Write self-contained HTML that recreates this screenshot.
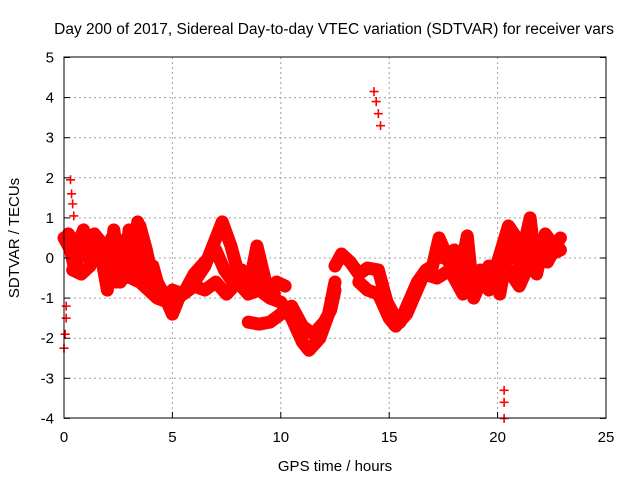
<!DOCTYPE html>
<html><head><meta charset="utf-8"><style>
body{margin:0;background:#fff}
svg text{font-family:"Liberation Sans",sans-serif;font-size:15px;fill:#000}
</style></head><body>
<svg id="chart" width="640" height="480" viewBox="0 0 640 480" xmlns="http://www.w3.org/2000/svg">
<rect width="640" height="480" fill="#fff"/>
<text x="334" y="34" text-anchor="middle" style="font-size:15.5px">Day 200 of 2017, Sidereal Day-to-day VTEC variation (SDTVAR) for receiver vars</text>
<g id="grid"></g>
<g id="marks"></g>
<rect x="64" y="57" width="542" height="361" fill="none" stroke="#000" stroke-width="1"/>
<g id="ticks"></g>
<text x="335" y="471" text-anchor="middle">GPS time / hours</text>
<text transform="translate(19,238) rotate(-90)" text-anchor="middle">SDTVAR / TECUs</text>
</svg>
<script>
const xTicks=[0,5,10,15,20,25];
const yTicks=[-4,-3,-2,-1,0,1,2,3,4,5];
const traceA=[[0,0.5],[0.3,0.2],[0.5,-0.3],[0.8,0.4],[1.0,0.6],[1.3,0.2],[1.5,0.5],[1.8,-0.2],[2.0,-0.8],[2.2,0.5],[2.5,0.2],[2.8,-0.5],[3.0,0.7],[3.3,-0.3],[3.5,0.8],[3.8,0.2],[4.0,-0.3],[4.3,-0.6],[4.6,-0.9],[5.0,-1.4],[5.3,-1.0],[5.6,-0.8],[6.0,-0.4],[6.5,-0.1],[7.0,0.2],[7.4,-0.3],[7.8,-0.6],[8.2,-0.3],[8.6,-0.7],[9.0,-0.5],[9.4,-0.8],[9.8,-0.6],[10.2,-0.7]];
const traceA2=[[0.2,0.6],[0.6,0.3],[0.9,0.7],[1.2,-0.1],[1.4,0.6],[1.7,0.4],[2.1,-0.4],[2.3,0.7],[2.6,-0.6],[2.9,0.5],[3.2,0.1],[3.4,0.9],[3.7,-0.6],[4.1,-0.2],[4.4,-0.8]];
const traceB=[[0.4,-0.3],[0.8,-0.4],[1.2,-0.2],[1.6,0.3],[2.0,0.1],[2.4,-0.6],[2.7,-0.2],[3.1,-0.5],[3.5,-0.6],[3.9,-0.8],[4.3,-1.0],[4.8,-1.1],[5.0,-0.8],[5.5,-0.9],[6.0,-0.7],[6.5,-0.8],[7.0,-0.6],[7.5,-0.9],[8.0,-0.6],[8.5,-0.9],[9.0,-0.8],[9.5,-1.0],[10.0,-1.1],[10.5,-1.5],[11.0,-2.1],[11.3,-2.3],[11.8,-2.0],[12.2,-1.4],[12.5,-0.6]];
const traceC=[[6.0,-0.6],[6.5,-0.2],[7.3,0.9],[7.7,0.3],[8.0,-0.3],[8.5,-0.8],[8.9,0.3],[9.3,-0.6],[9.7,-0.9]];
const traceD=[[8.5,-1.6],[9.0,-1.65],[9.5,-1.6],[10.0,-1.4],[10.5,-1.2],[11.0,-1.7],[11.5,-1.9],[12.0,-1.6],[12.3,-1.3],[12.5,-0.8]];
const traceE=[[12.5,-0.2],[12.8,0.1],[13.2,-0.1],[13.6,-0.4],[14.0,-0.25],[14.5,-0.3],[14.9,-1.1],[15.2,-1.4],[15.5,-1.6],[15.9,-1.1],[16.3,-0.6],[16.7,-0.3],[17.0,-0.2],[17.3,0.5],[17.7,0.0],[18.0,-0.5],[18.3,-0.3],[18.6,0.55],[18.9,-1.0],[19.3,-0.5],[19.6,-0.2],[20.1,-0.9],[20.4,0.0],[20.7,0.5],[21.0,-0.2],[21.5,1.0],[21.8,-0.4],[22.2,0.6],[22.6,0.3],[22.9,0.5]];
const traceF=[[13.6,-0.6],[14.0,-0.8],[14.5,-0.9],[15.0,-1.5],[15.3,-1.7],[15.8,-1.4],[16.2,-0.9],[16.6,-0.4],[17.2,-0.5],[17.8,-0.3],[18.4,-0.9],[18.8,-0.6],[19.2,-0.3],[19.6,-0.8],[20.0,-0.5],[20.5,-0.3],[21.0,-0.7],[21.5,-0.1],[22.0,0.2],[22.5,0.1],[22.9,0.2]];
const traceF2=[[17.5,0.0],[18.0,0.2],[18.5,-0.4],[19.0,-0.7],[19.5,-0.5],[20.0,-0.1],[20.5,0.8],[21.0,0.4],[21.4,0.6],[21.8,0.2],[22.3,-0.1],[22.8,0.4]];
const traceG=[[14.3,4.15],[14.4,3.9],[14.5,3.6],[14.6,3.3]];
const traceH=[[0.3,1.95],[0.35,1.6],[0.4,1.35],[0.45,1.05]];
const traceI=[[0.0,-2.25],[0.05,-1.9],[0.1,-1.5],[0.1,-1.2]];
const traceJ=[[20.3,-3.3],[20.3,-3.6],[20.3,-4.0]];
const series=[traceA,traceA2,traceB,traceC,traceD,traceE,traceF,traceF2];
const scattered=[traceG,traceH,traceI,traceJ];
const X=h=>64+h*542/25, Y=v=>258-v*40.1;
const NS='http://www.w3.org/2000/svg';
const grid=document.getElementById('grid'),ticks=document.getElementById('ticks'),marks=document.getElementById('marks');
function mk(tag,attrs,parent){const e=document.createElementNS(NS,tag);for(const k in attrs)e.setAttribute(k,attrs[k]);parent.appendChild(e);return e;}
xTicks.forEach(t=>{
 if(t>0&&t<25){const g=mk('line',{x1:X(t),x2:X(t),y1:57,y2:418,stroke:'#a0a0a0','stroke-dasharray':'2,3'},grid);
 
 }
 const l=mk('line',{x1:X(t),x2:X(t),y1:418,y2:412,stroke:'#000'},ticks);
 
 
 const tx=mk('text',{x:X(t),y:442,'text-anchor':'middle'},ticks);tx.textContent=t;
 
 
});
yTicks.forEach(t=>{
 if(t>-4&&t<5){const g=mk('line',{x1:64,x2:606,y1:Y(t),y2:Y(t),stroke:'#a0a0a0','stroke-dasharray':'2,3'},grid);
 
 }
 const l=mk('line',{x1:64,x2:70,y1:Y(t),y2:Y(t),stroke:'#000'},ticks);
 
 
 const l2=mk('line',{x1:600,x2:606,y1:Y(t),y2:Y(t),stroke:'#000'},ticks);
 
 
 const tx=mk('text',{x:54,y:Y(t)+5,'text-anchor':'end'},ticks);tx.textContent=t;
 
 
});
series.forEach(s=>{
 const p=mk('polyline',{points:s.map(d=>X(d[0])+','+Y(d[1])).join(' '),fill:'none',stroke:'#f00','stroke-width':13,'stroke-linejoin':'round','stroke-linecap':'round'},marks);
 
 
});
function plus(d){const x=X(d[0]),y=Y(d[1]);
 const p=mk('path',{d:`M${x-4.5},${y}H${x+4.5}M${x},${y-4.5}V${y+4.5}`,stroke:'#f00','stroke-width':1.6},marks);
 
 }
series.forEach(s=>s.forEach(plus));
scattered.forEach(s=>s.forEach(plus));
</script>
</body></html>
